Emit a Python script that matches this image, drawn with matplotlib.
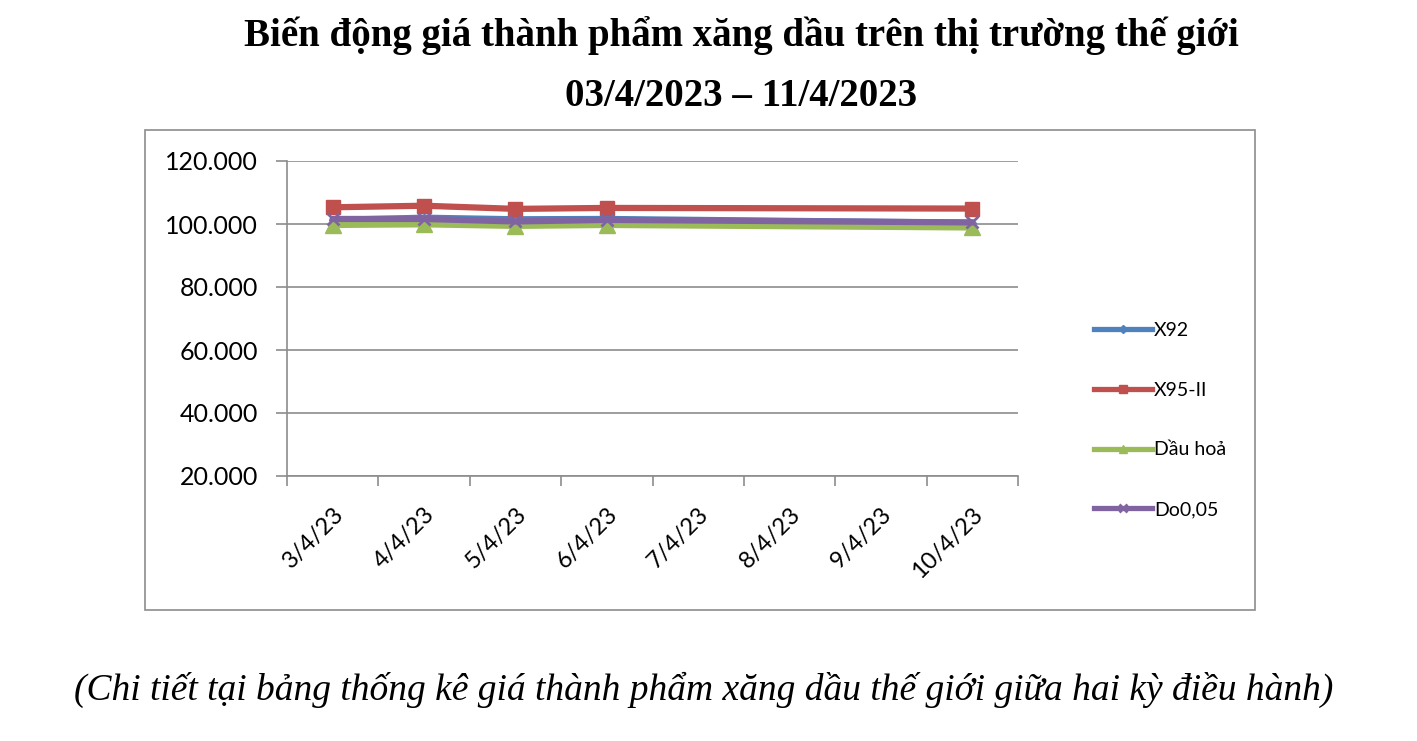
import matplotlib
matplotlib.use("Agg")
import matplotlib.pyplot as plt
from matplotlib.patches import Rectangle
from matplotlib.ticker import FuncFormatter
from matplotlib.lines import Line2D

# categories on the date axis (Excel shows every day)
days = ["3/4/23", "4/4/23", "5/4/23", "6/4/23", "7/4/23", "8/4/23", "9/4/23", "10/4/23"]
# days with published prices
data_days = ["3/4/23", "4/4/23", "5/4/23", "6/4/23", "10/4/23"]

x92 = [101300, 102000, 101500, 101600, 100400]
x95 = [105300, 105800, 104800, 105100, 104900]
dau_hoa = [99700, 99900, 99400, 99700, 98900]
do005 = [101600, 101600, 100800, 101300, 100500]

series_names = ["X92", "X95-II", "Dầu hoả", "Do0,05"]
colors = ["#4F81BD", "#C0504D", "#9BBB59", "#8064A2"]

yticks = [20000, 40000, 60000, 80000, 100000, 120000]

title1 = "Biến động giá thành phẩm xăng dầu trên thị trường thế giới"
title2 = "03/4/2023 – 11/4/2023"
caption = "(Chi tiết tại bảng thống kê giá thành phẩm xăng dầu thế giới giữa hai kỳ điều hành)"

W, H = 1417, 741
fig = plt.figure(figsize=(W / 100, H / 100), dpi=100)

# outer chart frame
fig.patches.append(Rectangle((145 / W, 1 - 610 / H), 1110 / W, 480 / H,
                             transform=fig.transFigure, fill=False,
                             edgecolor="#8C8C8C", linewidth=1.2))

ax = fig.add_axes([287 / W, 1 - 476 / H, 731 / W, 315 / H])

xpos = [days.index(d) for d in data_days]
styles = [
    dict(marker="D", ms=4),
    dict(marker="s", ms=10),
    dict(marker="^", ms=11),
    dict(marker="x", ms=9, mew=2),
]
for vals, name, c, st in zip([x92, x95, dau_hoa, do005], series_names, colors, styles):
    ax.plot(xpos, vals, color=c, lw=4.5, label=name, solid_capstyle="round", **st)

ax.set_xlim(-0.5, len(days) - 0.5)
ax.set_ylim(20000, 120000)
ax.set_yticks(yticks)
ax.yaxis.set_major_formatter(FuncFormatter(lambda v, p: f"{int(v):,}".replace(",", ".")))
ax.grid(axis="y", color="#8C8C8C", lw=1.2)
ax.set_axisbelow(True)

ax.set_xticks([i - 0.5 for i in range(len(days) + 1)])
ax.set_xticklabels([])
ax.set_xticks(range(len(days)), minor=True)
ax.set_xticklabels(days, minor=True, rotation=45, ha="right", va="top",
                   rotation_mode="anchor", fontsize=17, family="Lato")
ax.tick_params(axis="x", which="minor", length=0, pad=20)
ax.tick_params(axis="x", which="major", length=7, color="#8C8C8C", width=1.2)
ax.tick_params(axis="y", length=8, color="#8C8C8C", width=1.2, pad=13, labelsize=18)
for lab in ax.get_yticklabels():
    lab.set_family("Lato")

for s in ["top", "right"]:
    ax.spines[s].set_visible(False)
for s in ["left", "bottom"]:
    ax.spines[s].set_color("#8C8C8C")
    ax.spines[s].set_linewidth(1.2)

handles = [Line2D([], [], color=colors[0], lw=3.8, marker="D", ms=4),
           Line2D([], [], color=colors[1], lw=3.8, marker="s", ms=6),
           Line2D([], [], color=colors[2], lw=3.8, marker="^", ms=6),
           Line2D([], [], color=colors[3], lw=3.8, marker="x", ms=6, mew=2)]
fig.legend(handles, series_names, loc="center left",
           bbox_to_anchor=(1076 / W, 1 - 420 / H), frameon=False,
           prop={"family": "Lato", "size": 14}, handlelength=3.0,
           handletextpad=0.1, labelspacing=2.2)

fig.text(741 / W, 1 - 36 / H, title1, ha="center", va="center",
         family="Liberation Serif", weight="bold", fontsize=28)
fig.text(741 / W, 1 - 97 / H, title2, ha="center", va="center",
         family="Liberation Serif", weight="bold", fontsize=28)
fig.text(704 / W, 1 - 690 / H, caption, ha="center", va="center",
         family="Liberation Serif", style="italic", fontsize=27)

fig.savefig("out.png", dpi=100)
